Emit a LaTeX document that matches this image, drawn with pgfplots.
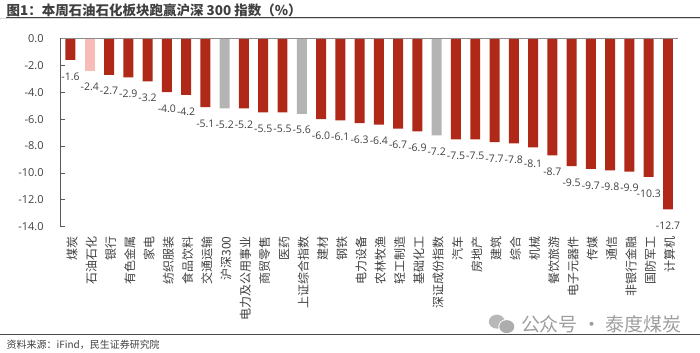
\documentclass[border=0pt]{standalone}
\usepackage{fontspec}
\setmainfont{Noto Sans CJK SC}
\newfontfamily\lat{Open Sans}
\usepackage{pgfplots}
\pgfplotsset{compat=1.18}
\definecolor{barred}{HTML}{B02818}
\definecolor{barpink}{HTML}{F7BBB8}
\definecolor{bargray}{HTML}{B4B4B4}
\definecolor{txt}{HTML}{404040}
\begin{document}
\begin{tikzpicture}[x=1pt,y=1pt]
\path (0,0) rectangle (700,353);
\begin{axis}[
  at={(60.5pt,126pt)}, anchor=south west,
  scale only axis, width=617.5pt, height=188.5pt,
  xmin=-0.5, xmax=31.5, ymin=-14, ymax=0,
  ybar, bar width=10pt, bar shift=0pt,
  axis line style={draw=none},
  clip=false,
  tick pos=left,
  xtick={0,...,31},
  xticklabels={煤炭,石油石化,银行,有色金属,家电,纺织服装,食品饮料,交通运输,沪深300,电力及公用事业,商贸零售,医药,上证综合指数,建材,钢铁,电力设备,农林牧渔,轻工制造,基础化工,深证成份指数,汽车,房地产,建筑,综合,机械,餐饮旅游,电子元器件,传媒,通信,非银行金融,国防军工,计算机},
  xticklabel pos=lower,
  x tick label style={rotate=90, anchor=east, font=\fontsize{12}{12}\selectfont, text=txt, inner sep=0pt, xshift=-9.5pt, yshift=-1.5pt},
  x tick style={draw=none},
  major tick length=4pt,
  ytick={0,-2,-4,-6,-8,-10,-12,-14},
  yticklabels={0.0,-2.0,-4.0,-6.0,-8.0,-10.0,-12.0,-14.0},
  y tick label style={font=\lat\fontsize{11}{12}\selectfont, text=txt, inner sep=0pt, xshift=-17pt},
  y tick style={draw=black!65, line width=0.7pt},
  tick align=inside,
  point meta=explicit symbolic,
  nodes near coords,
  every node near coord/.style={anchor=center, yshift=-16.5pt, inner sep=0pt, font=\lat\fontsize{10.5}{12}\selectfont, text=txt},
]
\addplot[fill=barred, draw=none] coordinates {
(0,-1.6)[-1.6] (2,-2.7)[-2.7] (3,-2.9)[-2.9] (4,-3.2)[-3.2] (5,-4.0)[-4.0] (6,-4.2)[-4.2] (7,-5.1)[-5.1]
(9,-5.2)[-5.2] (10,-5.5)[-5.5] (11,-5.5)[-5.5] (13,-6.0)[-6.0] (14,-6.1)[-6.1] (15,-6.3)[-6.3] (16,-6.4)[-6.4] (17,-6.7)[-6.7] (18,-6.9)[-6.9]
(20,-7.5)[-7.5] (21,-7.5)[-7.5] (22,-7.7)[-7.7] (23,-7.8)[-7.8] (24,-8.1)[-8.1] (25,-8.7)[-8.7] (26,-9.5)[-9.5] (27,-9.7)[-9.7] (28,-9.8)[-9.8] (29,-9.9)[-9.9] (30,-10.3)[-10.3] (31,-12.7)[-12.7]
};
\addplot[fill=barpink, draw=none] coordinates {(1,-2.4)[-2.4]};
\addplot[fill=bargray, draw=none] coordinates {(8,-5.2)[-5.2] (12,-5.6)[-5.6] (19,-7.2)[-7.2]};
\draw[black!65, line width=0.8pt] (rel axis cs:0,0) -- (rel axis cs:0,1);
\draw[black!45, line width=0.8pt] (rel axis cs:0,1) -- (rel axis cs:1,1);
\end{axis}
% title and rules
\node[anchor=west, inner sep=0pt, text=txt] at (6,342.5) {\fontsize{13.5}{14}\selectfont\bfseries 图1：本周石油石化板块跑赢沪深 300 指数（\%）};
\draw[black!75, line width=0.8pt] (6,335.5) -- (700,335.5);
\draw[black!15, line width=0.6pt] (0,334.5) -- (700,334.5);
\draw[black!70, line width=0.8pt] (0,18) -- (700,18);
\node[anchor=west, inner sep=0pt, text=txt] at (6,8) {\fontsize{10}{11}\selectfont 资料来源：iFind，民生证券研究院};
% watermark
\fill[black!28] (497,31) ellipse (8 and 7);
\fill[white] (507,26) ellipse (8.5 and 7.5);
\fill[black!32] (507,26) ellipse (7.5 and 6.5);
\node[anchor=west, inner sep=0pt, text=black!38] at (521,28) {\fontsize{19}{20}\selectfont 公众号 · 泰度煤炭};
\end{tikzpicture}
\end{document}
